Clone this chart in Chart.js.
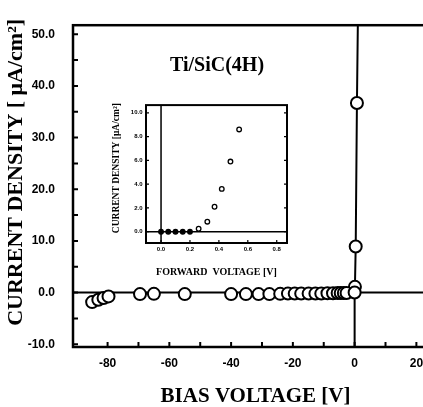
<!DOCTYPE html>
<html>
<head>
<meta charset="utf-8">
<script src="https://cdn.jsdelivr.net/npm/chart.js@4"></script>
<style>
  html, body { margin: 0; padding: 0; background: #fff; overflow: hidden; }
  #wrap { position: relative; width: 423px; height: 407px; overflow: hidden; }
  #main { position: absolute; left: 0; top: 0; }
  #inset { position: absolute; left: 104px; top: 98px; }
</style>
</head>
<body>
<div id="wrap">
  <canvas id="main" width="453" height="407"></canvas>
  <canvas id="inset" width="190" height="182"></canvas>
</div>
<script>
// ---- main plot: reverse sweep ----
const biasV = [-85, -83, -81.3, -79.7, -69.5, -65, -55, -40, -35.2, -31.1, -27.6, -24.1, -21.6,
               -19.4, -17.3, -14.9, -12.7, -10.8, -8.8, -7, -5.5, -4.5, -3.5, -2.6, 0];
const biasJ = [-1.85, -1.4, -1.05, -0.75, -0.3, -0.25, -0.3, -0.3, -0.3, -0.3, -0.3, -0.25, -0.2,
               -0.2, -0.2, -0.2, -0.2, -0.2, -0.15, -0.15, -0.1, -0.1, -0.1, -0.1, 0];

// forward points on the right of the main plot
const fwdV = [0.1, 0.35, 0.75];
const fwdJ = [1.1, 8.9, 36.7];

// the curve through the forward points, running up to the top edge
const curveV = [0, 0.1, 0.35, 0.75, 1.1];
const curveJ = [0, 1.1, 8.9, 36.7, 55];

const xTicks = [-80, -60, -40, -20, 0, 20];
const yTicks = [-10, 0, 10, 20, 30, 40, 50];

// ---- inset: forward voltage ----
const insetV = [0, 0.05, 0.1, 0.15, 0.2, 0.26, 0.32, 0.37, 0.42, 0.48, 0.54];
const insetJ = [0, 0, 0, 0, 0, 0.25, 0.84, 2.1, 3.6, 5.9, 8.6];
const insetXTicks = [0, 0.2, 0.4, 0.6, 0.8];
const insetYTicks = [0, 2, 4, 6, 8, 10];


function pts(xs, ys) {
    return xs.map((v, i) => ({x: v, y: ys[i]}));
}

// zero lines under the points, frame + inward ticks on top
function framePlugin(cfg) {
    return {
        id: 'frame_' + cfg.name,
        beforeDatasetsDraw(chart) {
            const ctx = chart.ctx;
            const a = chart.chartArea;
            const x0 = chart.scales.x.getPixelForValue(0);
            const y0 = chart.scales.y.getPixelForValue(0);
            ctx.save();
            ctx.strokeStyle = '#000';
            ctx.lineWidth = cfg.zeroWidth;
            ctx.beginPath();
            ctx.moveTo(a.left, y0);
            ctx.lineTo(a.right, y0);
            ctx.moveTo(x0, cfg.fullVertical ? a.top : y0);
            ctx.lineTo(x0, a.bottom);
            ctx.stroke();
            ctx.restore();
        },
        afterDraw(chart) {
            const ctx = chart.ctx;
            const a = chart.chartArea;
            const sx = chart.scales.x, sy = chart.scales.y;
            ctx.save();
            ctx.strokeStyle = '#000';
            ctx.lineWidth = cfg.frameWidth;
            ctx.strokeRect(a.left, a.top, a.right - a.left, a.bottom - a.top);
            ctx.lineWidth = cfg.tickWidth;
            ctx.beginPath();
            cfg.yMarks.forEach(v => {
                const p = sy.getPixelForValue(v);
                ctx.moveTo(a.left, p);
                ctx.lineTo(a.left + cfg.tickLen, p);
                if (cfg.rightTicks) {
                    ctx.moveTo(a.right, p);
                    ctx.lineTo(a.right - cfg.tickLen, p);
                }
            });
            cfg.xMarks.forEach(v => {
                const p = sx.getPixelForValue(v);
                ctx.moveTo(p, a.bottom);
                ctx.lineTo(p, a.bottom - cfg.tickLen);
            });
            ctx.stroke();
            ctx.restore();
        }
    };
}

// minor marks halfway between labelled ticks
function withHalves(ticks) {
    const out = [];
    ticks.forEach((v, i) => {
        out.push(v);
        if (i < ticks.length - 1) out.push((v + ticks[i + 1]) / 2);
    });
    return out;
}

const tickFont = {family: 'Liberation Sans', weight: 'bold', size: 12};

new Chart(document.getElementById('main'), {
    type: 'scatter',
    data: {
        datasets: [
            {
                data: pts(biasV, biasJ),
                pointRadius: 6,
                pointBorderWidth: 2,
                pointBorderColor: '#000',
                pointBackgroundColor: '#fff',
                order: 1
            },
            {
                data: pts(fwdV, fwdJ),
                pointRadius: 6,
                pointBorderWidth: 2,
                pointBorderColor: '#000',
                pointBackgroundColor: '#fff',
                order: 1
            },
            {
                type: 'line',
                data: pts(curveV, curveJ),
                showLine: true,
                pointRadius: 0,
                borderWidth: 2,
                borderColor: '#000',
                fill: false,
                order: 3
            }
        ]
    },
    options: {
        responsive: false,
        animation: false,
        devicePixelRatio: 1,
        layout: {padding: {top: 10, right: 15, left: 0, bottom: 0}},
        plugins: {legend: {display: false}, tooltip: {enabled: false}},
        scales: {
            x: {
                type: 'linear',
                min: -91.2,
                max: 27,
                afterBuildTicks: s => { s.ticks = xTicks.map(v => ({value: v})); },
                afterFit: s => { s.height = 60; },
                grid: {display: false, drawTicks: false},
                border: {display: false},
                ticks: {color: '#000', font: tickFont, padding: 9, maxRotation: 0,
                        callback: v => String(v)},
                title: {display: true, text: 'BIAS VOLTAGE [V]', color: '#000',
                        font: {family: 'Liberation Serif', weight: 'bold', size: 21, lineHeight: 1},
                        padding: {top: 0, bottom: 0}}
            },
            y: {
                type: 'linear',
                min: -10.54,
                max: 51.75,
                afterBuildTicks: s => { s.ticks = yTicks.map(v => ({value: v})); },
                afterFit: s => { s.width = 73; },
                grid: {display: false, drawTicks: false},
                border: {display: false},
                ticks: {color: '#000', font: tickFont, padding: 18,
                        callback: v => Number(v).toFixed(1)},
                title: {display: true, text: '     CURRENT DENSITY [ μA/cm²]', color: '#000',
                        font: {family: 'Liberation Serif', weight: 'bold', size: 22, lineHeight: 1},
                        padding: {top: 5, bottom: 0}}
            }
        }
    },
    plugins: [
        framePlugin({name: 'main', zeroWidth: 2, frameWidth: 2.5, tickWidth: 2, tickLen: 5,
                     fullVertical: false, rightTicks: false,
                     yMarks: withHalves(yTicks), xMarks: withHalves(xTicks)}),
        {
            id: 'label',
            afterDraw(chart) {
                const ctx = chart.ctx;
                ctx.save();
                ctx.fillStyle = '#000';
                ctx.font = 'bold 20px "Liberation Serif"';
                ctx.textAlign = 'center';
                ctx.textBaseline = 'middle';
                ctx.fillText('Ti/SiC(4H)', 217, 66);
                ctx.restore();
            }
        }
    ]
});

const insetTickFont = {family: 'Liberation Sans', weight: 'bold', size: 6};

new Chart(document.getElementById('inset'), {
    type: 'scatter',
    data: {
        datasets: [{
            data: pts(insetV, insetJ),
            pointRadius: 2.3,
            pointBorderWidth: 1.3,
            pointBorderColor: '#000',
            pointBackgroundColor: c => (c.raw && c.raw.y === 0) ? '#000' : '#fff'
        }]
    },
    options: {
        responsive: false,
        animation: false,
        devicePixelRatio: 1,
        layout: {padding: {top: 7, right: 7, left: 0, bottom: 0}},
        plugins: {legend: {display: false}, tooltip: {enabled: false}},
        scales: {
            x: {
                type: 'linear',
                min: -0.104,
                max: 0.871,
                afterBuildTicks: s => { s.ticks = insetXTicks.map(v => ({value: v})); },
                afterFit: s => { s.height = 37; },
                grid: {display: false, drawTicks: false},
                border: {display: false},
                ticks: {color: '#000', font: insetTickFont, padding: 3, maxRotation: 0,
                        callback: v => Number(v).toFixed(1)},
                title: {display: true, text: 'FORWARD  VOLTAGE [V]', color: '#000',
                        font: {family: 'Liberation Serif', weight: 'bold', size: 10, lineHeight: 1},
                        padding: {top: 0, bottom: 3}}
            },
            y: {
                type: 'linear',
                min: -0.95,
                max: 10.65,
                afterBuildTicks: s => { s.ticks = insetYTicks.map(v => ({value: v})); },
                afterFit: s => { s.width = 42; },
                grid: {display: false, drawTicks: false},
                border: {display: false},
                ticks: {color: '#000', font: insetTickFont, padding: 3.5,
                        callback: v => Number(v).toFixed(1)},
                title: {display: true, text: '     CURRENT DENSITY [μA/cm²]', color: '#000',
                        font: {family: 'Liberation Serif', weight: 'bold', size: 9.5, lineHeight: 1},
                        padding: {top: 8, bottom: 0}}
            }
        }
    },
    plugins: [
        framePlugin({name: 'inset', zeroWidth: 1.5, frameWidth: 2, tickWidth: 1.2, tickLen: 3,
                     fullVertical: true, rightTicks: true,
                     yMarks: insetYTicks, xMarks: insetXTicks})
    ]
});
</script>
</body>
</html>
